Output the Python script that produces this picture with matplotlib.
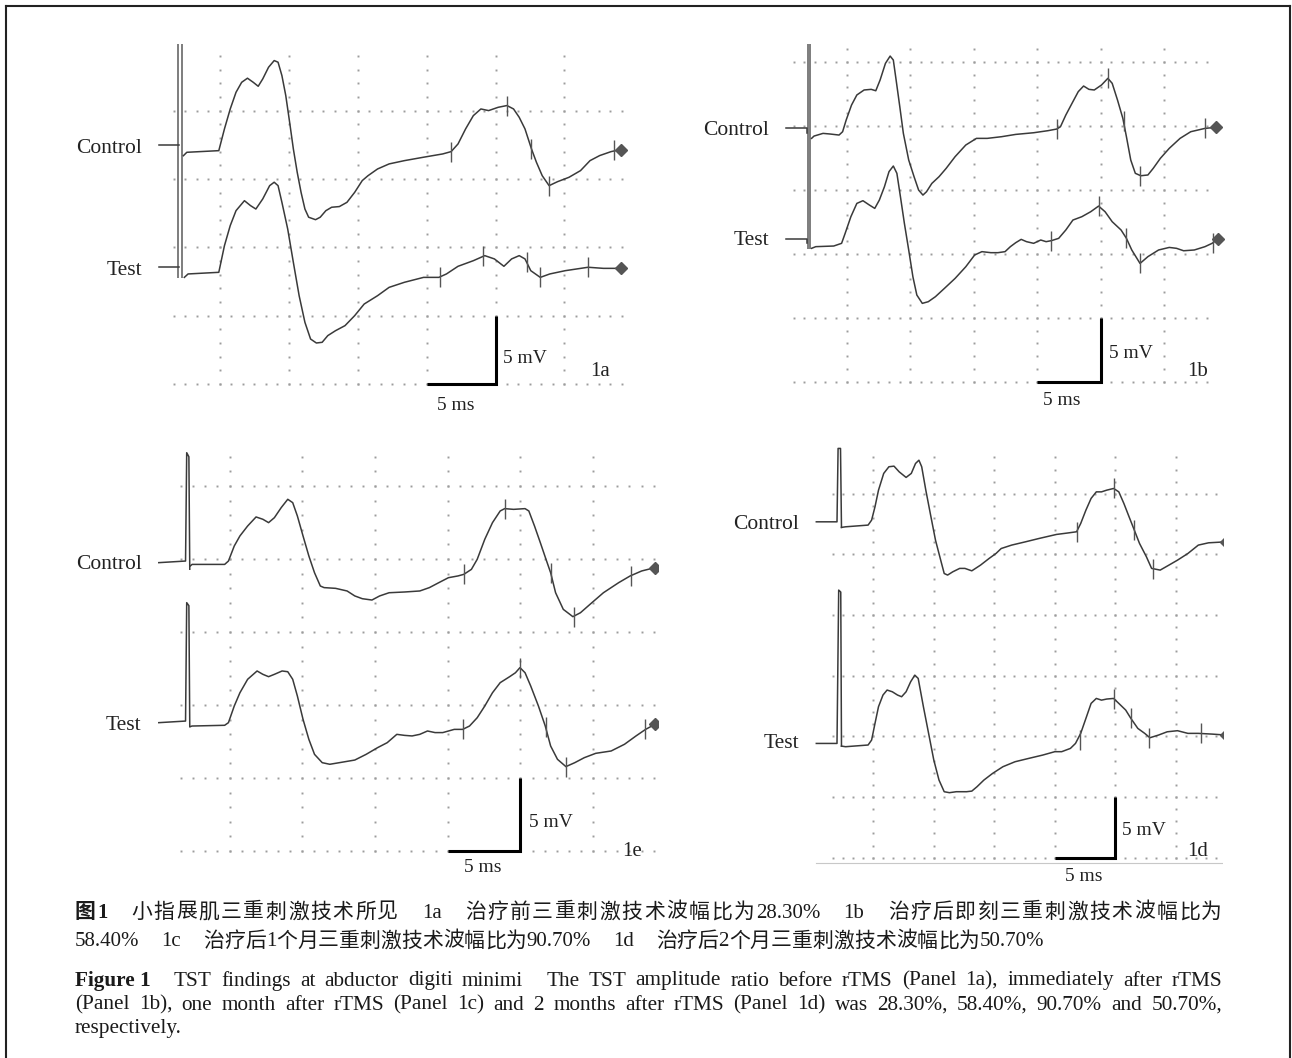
import matplotlib
matplotlib.use("Agg")
import matplotlib.pyplot as plt
import numpy as np
from matplotlib.lines import Line2D

# ===================== DATA (time in ms, amplitude in mV, panel frame) =====================
# ---- Panel 1a ----
A_CTRL_PRE_T = [0.56, 2.0]
A_CTRL_PRE_V = [17.49, 17.49]
A_CTRL_T = [2.35, 2.6, 4.92, 5.33, 5.75, 6.17, 6.58, 7.0, 7.42, 7.78, 8.11, 8.53, 8.94, 9.22, 9.5, 9.78,
            10.06, 10.33, 10.61, 10.89, 11.17, 11.44, 11.94, 12.28, 12.69, 13.11, 13.67, 14.22, 14.78,
            15.33, 15.75, 16.44, 17.28, 18.39, 19.78, 21.17, 21.78, 22.28, 22.83, 23.39, 23.94, 24.5,
            25.19, 25.83, 26.31, 26.72, 27.14, 27.61, 27.97, 28.39, 28.89, 29.5, 30.33, 31.17, 31.86,
            32.56, 33.39, 34.08]
A_CTRL_V = [16.7, 16.95, 17.07, 18.66, 20.12, 21.34, 22.07, 22.37, 22.07, 21.78, 22.32, 23.17, 23.66,
            23.54, 22.56, 21.1, 19.15, 17.2, 15.49, 14.02, 12.8, 12.2, 12.02, 12.2, 12.68, 12.93, 12.98,
            13.29, 14.02, 14.88, 15.24, 15.73, 16.1, 16.34, 16.59, 16.83, 17.0, 17.56, 18.66, 19.63,
            20.12, 20.0, 20.24, 20.37, 20.12, 19.51, 18.66, 17.2, 16.22, 15.24, 14.51, 14.8, 15.12,
            15.61, 16.34, 16.71, 17.0, 17.15]
A_CTRL_MARK_T = [21.78, 25.83, 27.61, 28.89, 33.61]
A_CTRL_MARK_V = [17.0, 20.37, 17.2, 14.51, 17.1]
A_TEST_PRE_T = [0.56, 2.0]
A_TEST_PRE_V = [8.54, 8.54]
A_TEST_T = [2.42, 2.69, 4.92, 5.33, 5.75, 6.17, 6.78, 7.22, 7.61, 8.11, 8.61, 8.94, 9.22, 9.5, 9.92,
            10.33, 10.75, 11.17, 11.58, 12.0, 12.42, 12.83, 13.39, 14.08, 14.78, 15.47, 16.44, 17.28,
            18.39, 19.78, 20.89, 21.44, 22.28, 23.39, 24.22, 24.92, 25.61, 26.17, 26.72, 27.14, 27.56,
            28.25, 28.94, 30.06, 31.72, 32.83, 34.08]
A_TEST_V = [7.8, 8.05, 8.17, 10.12, 11.59, 12.68, 13.41, 13.05, 12.8, 13.54, 14.51, 14.76, 14.51, 13.29,
            11.34, 8.9, 6.46, 4.51, 3.29, 3.0, 3.05, 3.54, 3.9, 4.27, 5.0, 5.85, 6.46, 7.07, 7.44, 7.8,
            7.8, 8.05, 8.61, 9.02, 9.39, 9.15, 8.61, 9.15, 9.39, 9.15, 8.29, 7.8, 8.05, 8.29, 8.54,
            8.46, 8.46]
A_TEST_MARK_T = [20.94, 24.08, 27.28, 28.25, 31.72]
A_TEST_MARK_V = [7.8, 9.39, 8.95, 7.8, 8.54]
A_STIM_T = [1.97, 2.22]
A_STIM_V = [24.9, 7.75]

# ---- Panel 1b ----
B_CTRL_PRE_T = [0.2, 1.88, 1.88]
B_CTRL_PRE_V = [19.79, 19.79, 19.4]
B_CTRL_T = [2.25, 2.44, 3.15, 3.71, 4.41, 4.69, 4.97, 5.39, 5.81, 6.38, 6.94, 7.3, 7.64, 8.06, 8.43,
            8.68, 8.9, 9.19, 9.47, 9.89, 10.31, 10.67, 11.01, 11.29, 11.71, 12.28, 12.84, 13.54, 14.38,
            15.22, 16.07, 17.19, 18.31, 19.72, 20.84, 21.54, 21.83, 22.25, 22.81, 23.23, 23.65, 24.07,
            24.49, 25.06, 25.56, 25.9, 26.32, 26.74, 27.02, 27.36, 27.72, 28.15, 28.71, 29.13, 29.69,
            30.39, 31.24, 32.08, 33.2, 34.04]
B_CTRL_V = [19.01, 19.19, 19.4, 19.35, 19.27, 19.53, 20.44, 21.61, 22.4, 22.79, 22.84, 22.73, 23.57,
            24.87, 25.44, 25.13, 23.57, 21.48, 19.4, 17.32, 16.02, 14.97, 14.58, 14.84, 15.49, 16.02,
            16.67, 17.58, 18.49, 19.01, 19.01, 19.14, 19.32, 19.45, 19.61, 19.74, 19.92, 20.83, 21.88,
            22.66, 23.1, 22.84, 22.79, 23.18, 23.7, 23.31, 22.0, 20.57, 19.14, 17.32, 16.28, 16.09,
            16.15, 16.67, 17.45, 18.23, 19.01, 19.53, 19.79, 19.87]
B_CTRL_MARK_T = [21.54, 25.56, 26.8, 28.1, 33.2]
B_CTRL_MARK_V = [19.74, 23.7, 20.4, 16.1, 19.79]
B_TEST_PRE_T = [0.2, 1.88, 1.88]
B_TEST_PRE_V = [11.12, 11.12, 10.8]
B_TEST_T = [2.25, 2.58, 3.99, 4.61, 4.89, 5.34, 5.81, 6.29, 6.8, 7.22, 7.58, 7.98, 8.34, 8.68, 8.96,
            9.24, 9.55, 9.89, 10.22, 10.53, 10.96, 11.43, 11.99, 12.7, 13.54, 14.38, 15.08, 15.65,
            16.35, 16.91, 17.47, 17.89, 18.31, 18.74, 19.16, 19.72, 20.28, 20.7, 21.12, 21.69, 22.25,
            22.81, 23.51, 24.21, 24.83, 25.34, 25.9, 26.6, 27.02, 27.44, 28.09, 28.71, 29.55, 30.39,
            30.96, 31.52, 32.36, 33.2, 33.76, 34.19]
B_TEST_V = [10.42, 10.55, 10.6, 10.81, 11.59, 12.89, 13.93, 14.14, 13.8, 13.54, 14.19, 15.23, 16.41,
            16.85, 16.28, 14.45, 12.37, 10.29, 8.2, 6.77, 6.12, 6.25, 6.64, 7.29, 8.07, 8.98, 9.9,
            10.16, 10.08, 10.08, 10.16, 10.55, 10.86, 11.12, 10.94, 10.81, 11.07, 10.94, 11.02, 11.2,
            11.85, 12.63, 12.89, 13.28, 13.72, 13.28, 12.5, 11.85, 11.2, 10.29, 9.24, 9.77, 10.29,
            10.49, 10.42, 10.23, 10.29, 10.55, 10.81, 11.12]
B_TEST_MARK_T = [21.12, 24.83, 27.02, 28.09, 33.85]
B_TEST_MARK_V = [11.02, 13.72, 11.2, 9.24, 10.85]
B_STIM_T = [1.97, 2.16]
B_STIM_V = [26.4, 10.4]

# ---- Panel 1c ----
C_CTRL_PRE_T = [0.13, 1.97, 2.05, 2.2, 2.26]
C_CTRL_PRE_V = [19.75, 19.86, 27.28, 27.0, 19.3]
C_CTRL_T = [2.29, 2.42, 4.66, 4.92, 5.32, 5.71, 6.24, 6.82, 7.29, 7.68, 8.08, 8.55, 9.0, 9.34, 9.66,
            10.05, 10.45, 10.84, 11.24, 11.5, 12.29, 13.08, 13.61, 14.13, 14.79, 15.32, 15.97, 17.03,
            18.08, 18.74, 19.39, 20.05, 20.71, 21.11, 21.63, 22.03, 22.55, 23.08, 23.61, 23.92, 24.53,
            25.32, 25.58, 25.97, 26.37, 26.76, 27.08, 27.42, 27.95, 28.61, 29.13, 29.92, 30.71, 31.76,
            32.55, 33.34, 34.26]
C_CTRL_V = [19.52, 19.63, 19.63, 19.86, 20.89, 21.58, 22.26, 22.88, 22.72, 22.49, 22.83, 23.52, 24.09,
            23.86, 22.95, 21.58, 20.21, 19.06, 18.15, 18.04, 17.99, 17.81, 17.47, 17.28, 17.19, 17.47,
            17.69, 17.74, 17.81, 18.04, 18.38, 18.72, 18.84, 18.95, 19.29, 19.98, 21.35, 22.49, 23.29,
            23.45, 23.4, 23.45, 23.29, 22.26, 21.12, 19.98, 19.06, 17.69, 16.55, 16.05, 16.32, 17.01,
            17.69, 18.38, 18.84, 19.18, 19.41]
C_CTRL_MARK_T = [21.11, 23.92, 27.08, 28.66, 32.6]
C_CTRL_MARK_V = [18.95, 23.45, 19.06, 16.05, 18.84]
C_TEST_PRE_T = [0.13, 1.97, 2.05, 2.2, 2.26]
C_TEST_PRE_V = [8.79, 8.9, 17.01, 16.8, 8.52]
C_TEST_T = [2.29, 2.42, 4.66, 4.92, 5.32, 5.71, 6.24, 6.89, 7.29, 7.68, 8.08, 8.61, 9.0, 9.34, 9.66,
            10.05, 10.45, 10.84, 11.37, 11.89, 12.55, 13.61, 14.39, 15.18, 15.84, 16.5, 17.03, 17.55,
            18.08, 18.61, 19.13, 19.66, 20.45, 21.03, 21.5, 22.03, 22.55, 23.08, 23.61, 24.26, 24.66,
            24.97, 25.32, 25.71, 26.24, 26.71, 27.08, 27.55, 28.13, 28.74, 29.39, 30.18, 31.24, 32.16,
            32.95, 33.61, 34.26]
C_TEST_V = [8.52, 8.56, 8.61, 8.79, 9.93, 10.84, 11.76, 12.33, 12.1, 11.94, 12.1, 12.33, 12.28, 11.76,
            10.62, 9.02, 7.65, 6.62, 6.05, 5.94, 6.05, 6.23, 6.62, 7.08, 7.42, 7.99, 7.92, 7.88, 7.99,
            8.22, 8.11, 8.11, 8.33, 8.33, 8.56, 9.13, 9.93, 10.84, 11.53, 11.94, 12.21, 12.56, 12.21,
            11.3, 9.93, 8.56, 7.19, 6.28, 5.78, 6.05, 6.39, 6.69, 6.85, 7.31, 7.88, 8.33, 8.68]
C_TEST_MARK_T = [21.03, 24.97, 26.76, 28.13, 33.55]
C_TEST_MARK_V = [8.33, 12.56, 8.5, 5.78, 8.33]

# ---- Panel 1d ----
D_CTRL_PRE_T = [0.29, 2.0, 2.09, 2.29, 2.37]
D_CTRL_PRE_V = [27.69, 27.69, 33.74, 33.74, 27.23]
D_CTRL_T = [2.37, 2.71, 4.57, 4.86, 5.14, 5.43, 5.86, 6.29, 6.71, 7.14, 7.71, 8.14, 8.49, 8.77, 9.0,
            9.34, 9.71, 10.14, 10.57, 10.86, 11.14, 11.57, 12.14, 12.57, 13.14, 13.86, 14.57, 15.14,
            15.57, 16.43, 17.57, 18.71, 20.14, 21.0, 21.8, 22.14, 22.57, 23.0, 23.43, 23.86, 24.29,
            24.86, 25.29, 25.71, 26.14, 26.57, 27.0, 27.57, 28.0, 28.71, 29.43, 30.14, 31.0, 31.86,
            32.71, 34.14]
D_CTRL_V = [27.23, 27.28, 27.42, 27.83, 28.93, 30.3, 31.68, 32.23, 32.28, 31.81, 31.35, 31.68, 32.5,
            32.77, 32.23, 30.3, 28.38, 26.18, 24.53, 23.43, 23.3, 23.57, 23.85, 23.85, 23.65, 24.12,
            24.67, 25.08, 25.49, 25.77, 26.04, 26.32, 26.65, 26.76, 26.87, 27.55, 28.65, 29.62, 30.16,
            30.16, 30.3, 30.44, 30.16, 29.2, 28.1, 27.01, 25.91, 24.81, 23.85, 23.71, 24.12, 24.53,
            25.08, 25.77, 25.96, 26.04]
D_CTRL_MARK_T = [21.86, 24.91, 26.57, 28.14]
D_CTRL_MARK_V = [26.85, 30.44, 27.01, 23.8]
D_TEST_PRE_T = [0.29, 2.0, 2.14, 2.31, 2.37]
D_TEST_PRE_V = [9.42, 9.42, 22.06, 21.9, 9.2]
D_TEST_T = [2.37, 2.71, 4.57, 4.86, 5.14, 5.43, 5.8, 6.14, 6.57, 7.0, 7.34, 7.71, 8.09, 8.43, 8.71,
            9.14, 9.57, 10.0, 10.43, 10.86, 11.29, 11.86, 12.71, 13.14, 13.57, 14.14, 14.86, 15.71,
            16.71, 17.86, 19.0, 20.0, 20.57, 21.29, 21.71, 22.14, 22.57, 23.0, 23.43, 23.86, 24.29,
            24.86, 25.29, 25.86, 26.29, 26.86, 27.43, 27.86, 28.57, 29.29, 30.14, 31.0, 31.86, 33.0,
            34.14]
D_TEST_V = [9.2, 9.15, 9.29, 9.7, 11.07, 12.45, 13.41, 13.82, 13.68, 13.41, 13.27, 13.68, 14.51, 15.05,
            14.78, 12.45, 10.25, 8.05, 6.4, 5.44, 5.36, 5.44, 5.44, 5.49, 5.85, 6.4, 6.95, 7.5, 7.91,
            8.19, 8.46, 8.74, 8.74, 9.01, 9.42, 10.25, 11.48, 12.72, 13.13, 12.99, 13.08, 13.13, 12.72,
            12.17, 11.48, 10.66, 10.25, 9.89, 10.11, 10.38, 10.47, 10.25, 10.25, 10.19, 10.11]
D_TEST_MARK_T = [22.09, 24.91, 26.29, 27.8, 32.09]
D_TEST_MARK_V = [9.7, 13.1, 11.48, 9.9, 10.25]

# ---- labels / scale ----
TRACE_LABELS = ["Control", "Test"]
PANEL_IDS = ["1a", "1b", "1e", "1d"]
SCALE_MS = 5
SCALE_MV = 5
SCALE_TEXT = ["5 ms", "5 mV"]
GRID_COLS = [5, 10, 15, 20, 25, 30]

CAP_CN_1 = ["图1", "小指展肌三重刺激技术所见", "1a", "治疗前三重刺激技术波幅比为28.30%", "1b",
            "治疗后即刻三重刺激技术波幅比为"]
CAP_CN_2 = ["58.40%", "1c", "治疗后1个月三重刺激技术波幅比为90.70%", "1d",
            "治疗后2个月三重刺激技术波幅比为50.70%"]
CAP_EN_TITLE = "Figure 1"
CAP_EN_1A = "TST findings at abductor digiti minimi"
CAP_EN_1B = "The TST amplitude ratio before rTMS (Panel 1a), immediately after rTMS"
CAP_EN_2 = "(Panel 1b), one month after rTMS (Panel 1c) and 2 months after rTMS (Panel 1d) was 28.30%, 58.40%, 90.70% and 50.70%,"
CAP_EN_3 = "respectively."

# ===================== LAYOUT / STYLE =====================
W, H = 1292, 1058
SERIF = "Liberation Serif"
CAPFAM = ["Liberation Serif", "Noto Sans CJK SC"]
TRACE_C = "#3a3a3a"
MARK_C = "#555555"
GRID_C = "#9c9c9c"

fig = plt.figure(figsize=(W / 100, H / 100), dpi=100)
fig.patch.set_facecolor("white")

PANELS = [
    dict(box=(60, 25, 640, 420), x0=151.0, kx=13.78, y0=384.0, ky=13.67,
         rows=[0, 5, 10, 15, 20], row_span=(0.9, 34.4), col_span=(0, 24.8),
         ctrl=(A_CTRL_PRE_T, A_CTRL_PRE_V, A_CTRL_T, A_CTRL_V, A_CTRL_MARK_T, A_CTRL_MARK_V),
         test=(A_TEST_PRE_T, A_TEST_PRE_V, A_TEST_T, A_TEST_V, A_TEST_MARK_T, A_TEST_MARK_V),
         stim=(A_STIM_T, A_STIM_V), lab_t=-0.67, lab_v=(17.24, 8.29),
         mv_pos=(25.56, 1.88), ms_pos=(22.13, -1.54), id_pos=(31.86, 0.9), base=None),
    dict(box=(690, 25, 1240, 415), x0=783.0, kx=12.71, y0=381.7, ky=12.8,
         rows=[0, 5, 10, 15, 20, 25], row_span=(0.2, 34.0), col_span=(-0.4, 26.3),
         ctrl=(B_CTRL_PRE_T, B_CTRL_PRE_V, B_CTRL_T, B_CTRL_V, B_CTRL_MARK_T, B_CTRL_MARK_V),
         test=(B_TEST_PRE_T, B_TEST_PRE_V, B_TEST_T, B_TEST_V, B_TEST_MARK_T, B_TEST_MARK_V),
         stim=(B_STIM_T, B_STIM_V), lab_t=-1.08, lab_v=(19.66, 11.02),
         mv_pos=(25.62, 2.22), ms_pos=(21.95, -1.43), id_pos=(31.8, 0.78), base=None),
    dict(box=(60, 440, 658, 885), x0=156.9, kx=14.54, y0=851.0, ky=14.6,
         rows=[0, 5, 10, 15, 20, 25], row_span=(0.97, 34.4), col_span=(0, 27.0),
         ctrl=(C_CTRL_PRE_T, C_CTRL_PRE_V, C_CTRL_T, C_CTRL_V, C_CTRL_MARK_T, C_CTRL_MARK_V),
         test=(C_TEST_PRE_T, C_TEST_PRE_V, C_TEST_T, C_TEST_V, C_TEST_MARK_T, C_TEST_MARK_V),
         stim=None, lab_t=-1.05, lab_v=(19.59, 8.63),
         mv_pos=(25.59, 1.92), ms_pos=(22.39, -1.16), id_pos=(32.03, 0.0), base=None),
    dict(box=(700, 440, 1223, 890), x0=812.8, kx=12.1, y0=857.7, ky=12.13,
         rows=[0, 5, 10, 15, 20, 25, 30], row_span=(1.14, 34.14), col_span=(-0.2, 33.6),
         ctrl=(D_CTRL_PRE_T, D_CTRL_PRE_V, D_CTRL_T, D_CTRL_V, D_CTRL_MARK_T, D_CTRL_MARK_V),
         test=(D_TEST_PRE_T, D_TEST_PRE_V, D_TEST_T, D_TEST_V, D_TEST_MARK_T, D_TEST_MARK_V),
         stim=None, lab_t=-1.12, lab_v=(27.45, 9.43),
         mv_pos=(25.53, 2.28), ms_pos=(22.36, -1.57), id_pos=(30.9, 0.5), base=(-0.46, 0.29, 34.14)),
]


def panel_axes(p):
    l, t, r, b = p["box"]
    ax = fig.add_axes([l / W, 1 - b / H, (r - l) / W, (b - t) / H])
    ax.set_xlim((l - p["x0"]) / p["kx"], (r - p["x0"]) / p["kx"])
    ax.set_ylim((p["y0"] - b) / p["ky"], (p["y0"] - t) / p["ky"])
    ax.axis("off")
    return ax


def draw_grid(ax, p):
    step = 5 / 6
    k0 = np.ceil((p["row_span"][0] - 5) / step)
    ts = 5 + step * np.arange(k0, 200)
    ts = ts[ts <= p["row_span"][1]]
    for v in p["rows"]:
        ax.plot(ts, np.full_like(ts, v), ls="none", marker="s", ms=1.4, mew=0, color=GRID_C)
    vs = np.arange(np.ceil(p["col_span"][0]), p["col_span"][1] + 1e-6, 1.0)
    for t in GRID_COLS:
        ax.plot(np.full_like(vs, t), vs, ls="none", marker="s", ms=1.4, mew=0, color=GRID_C)


def draw_trace(ax, tr):
    pre_t, pre_v, t, v, mk_t, mk_v = tr
    ax.plot(pre_t, pre_v, color=TRACE_C, lw=1.1)
    ax.plot(t, v, color=TRACE_C, lw=1.1)
    ax.plot(mk_t, mk_v, ls="none", marker="|", ms=15, mew=1.0, color=MARK_C)
    ax.plot(t[-1], v[-1], ls="none", marker="D", ms=6, color=MARK_C)


for p, pid in zip(PANELS, PANEL_IDS):
    ax = panel_axes(p)
    draw_grid(ax, p)
    if p["base"] is not None:
        bv, bt0, bt1 = p["base"]
        ax.plot([bt0, bt1], [bv, bv], color="#c8c8c8", lw=0.8)
    if p["stim"] is not None:
        st, sv = p["stim"]
        ax.vlines(st, sv[1], sv[0], color="#5a5a5a", lw=1.1)
    draw_trace(ax, p["ctrl"])
    draw_trace(ax, p["test"])
    for name, lv in zip(TRACE_LABELS, p["lab_v"]):
        ax.text(p["lab_t"], lv, name, ha="right", va="center", fontfamily=SERIF, fontsize=15.5,
                color="#222222")
    # scale bars
    ax.plot([25 - SCALE_MS, 25, 25], [0, 0, SCALE_MV], color="black", lw=2.2,
            solid_capstyle="butt", solid_joinstyle="miter")
    ax.text(*p["mv_pos"], SCALE_TEXT[1], ha="left", va="center", fontfamily=SERIF, fontsize=14,
            color="#222222")
    ax.text(*p["ms_pos"], SCALE_TEXT[0], ha="center", va="center", fontfamily=SERIF, fontsize=14,
            color="#222222")
    ax.text(*p["id_pos"], pid, ha="left", va="center", fontfamily=SERIF, fontsize=15,
            color="#222222")

# ===================== FRAME =====================
for xs, ys in [([6, 6], [6, H + 5]), ([6, 1290], [6, 6]), ([1290, 1290], [6, H + 5])]:
    fig.add_artist(Line2D([x / W for x in xs], [1 - y / H for y in ys], transform=fig.transFigure,
                          color="#222222", lw=1.5))

# ===================== CAPTION =====================
renderer = fig.canvas.get_renderer()


def split_units(token):
    """Split a token into glyph units: runs of ASCII stay together, each CJK char is one unit."""
    units, buf = [], ""
    for ch in token:
        if ord(ch) < 128:
            buf += ch
        else:
            if buf:
                units.append(buf)
                buf = ""
            units.append(ch)
    if buf:
        units.append(buf)
    return units


def place_units(tokens, y, x_left, x_right=None, token_gap=22.0, glyph_justify=True):
    """tokens: list of (text, style[, extra_gap_before]). Places text; justifies to x_right."""
    items = []  # (artist, width, is_token_start, extra_gap)
    for ti, tok in enumerate(tokens):
        txt, kw = tok[0], tok[1]
        eg = tok[2] if len(tok) > 2 else 0.0
        units = split_units(txt) if glyph_justify else [txt]
        for ui, u in enumerate(units):
            a = fig.text(0, 1 - y / H, u, ha="left", va="center", color="#1a1a1a", **kw)
            items.append((a, a.get_window_extent(renderer).width, ti > 0 and ui == 0,
                          eg if ui == 0 else 0.0))
    n_tok_gaps = sum(1 for it in items if it[2])
    n_inner = len(items) - 1 - n_tok_gaps
    extra = 0.0
    if x_right is not None:
        free = (x_right - x_left - sum(it[1] for it in items) - n_tok_gaps * token_gap
                - sum(it[3] for it in items))
        extra = free / max(n_inner + n_tok_gaps, 1)
    x = x_left
    for i, (a, w, start, eg) in enumerate(items):
        if i > 0:
            x += extra + (token_gap if start else 0.0) + eg
        a.set_x(x / W)
        x += w


CN_REG = dict(fontfamily=CAPFAM, fontsize=15)
CN_BOLD = dict(fontfamily=CAPFAM, fontsize=15, fontweight="bold")
EN_REG = dict(fontfamily=SERIF, fontsize=15.3)
EN_BOLD = dict(fontfamily=SERIF, fontsize=15.3, fontweight="bold")

place_units([(CAP_CN_1[0], CN_BOLD)] + [(s, CN_REG) for s in CAP_CN_1[1:]], 913, 75, 1222,
            token_gap=22)
place_units([(s, CN_REG) for s in CAP_CN_2], 942, 75, None, token_gap=22)
en1 = ([(CAP_EN_TITLE, EN_BOLD)]
       + [(w, EN_REG, 14.0 if i == 0 else 0.0) for i, w in enumerate(CAP_EN_1A.split())]
       + [(w, EN_REG, 14.0 if i == 0 else 0.0) for i, w in enumerate(CAP_EN_1B.split())])
place_units(en1, 981, 75, 1222, token_gap=0, glyph_justify=False)
place_units([(w, EN_REG) for w in CAP_EN_2.split()], 1005, 75, 1222, token_gap=0,
            glyph_justify=False)
fig.text(75 / W, 1 - 1028 / H, CAP_EN_3, ha="left", va="center", color="#1a1a1a", **EN_REG)

fig.savefig("out.png", dpi=100, facecolor="white")
